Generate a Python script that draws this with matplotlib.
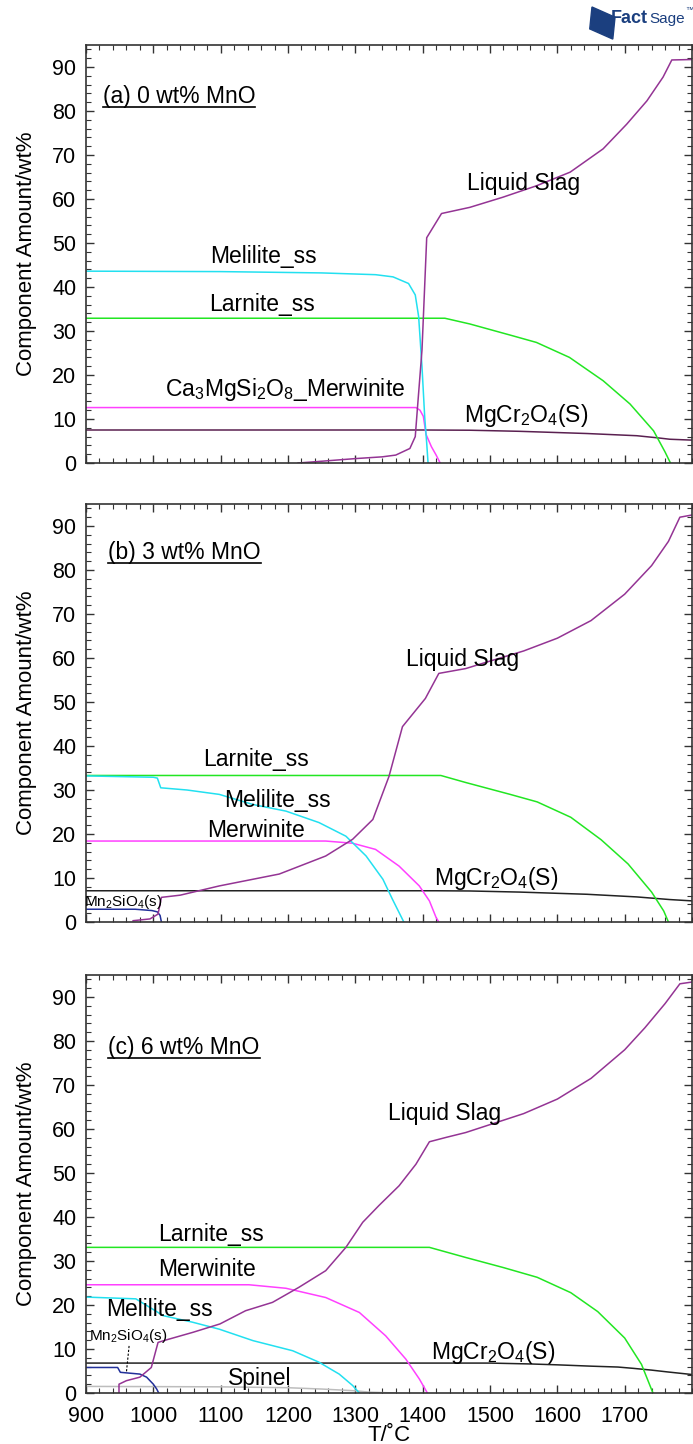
import matplotlib
matplotlib.use('Agg')
import matplotlib.pyplot as plt
from matplotlib.ticker import MultipleLocator
from matplotlib.patches import Rectangle
from matplotlib.lines import Line2D

plt.rcParams['font.family'] = ['Liberation Sans', 'DejaVu Sans']
plt.rcParams['mathtext.fontset'] = 'custom'
plt.rcParams['mathtext.rm'] = 'Liberation Sans'
plt.rcParams['mathtext.it'] = 'Liberation Sans:italic'

# colours of the phases
c_liq = '#943494'
c_mel = '#22e0f0'
c_lar = '#22e622'
c_mer = '#ff40ff'
c_mgcr = '#5a2050'
c_mgcr_bc = '#222222'
c_mn2 = '#22309a'
c_spin = '#bdbdbd'

# ---------------- (a) 0 wt% MnO ----------------
a_liq_T = [1215, 1250, 1300, 1340, 1360, 1381, 1389, 1392, 1399, 1406, 1428, 1470, 1519, 1569, 1619, 1668, 1703, 1733, 1757, 1770, 1800]
a_liq_v = [0, 0.4, 1.0, 1.4, 1.8, 3.3, 6.0, 12, 25.7, 51.2, 56.7, 58.1, 60.4, 63.0, 66.1, 71.4, 77.0, 82.3, 87.7, 91.6, 91.7]
a_mel_T = [900, 1100, 1250, 1330, 1356, 1379, 1389, 1394, 1399, 1403, 1406, 1408]
a_mel_v = [43.6, 43.5, 43.2, 42.8, 42.3, 40.8, 38.2, 33.3, 21.9, 10.5, 4.5, 0]
a_lar_T = [900, 1433, 1470, 1534, 1569, 1618, 1668, 1708, 1743, 1760, 1768]
a_lar_v = [32.9, 32.9, 31.6, 28.9, 27.4, 24.0, 18.7, 13.4, 7.3, 2.5, 0]
a_mer_T = [900, 1390, 1396, 1401, 1405, 1413, 1420, 1426]
a_mer_v = [12.6, 12.6, 12.0, 10.6, 6.5, 3.7, 1.8, 0]
a_mgcr_T = [900, 1400, 1470, 1544, 1644, 1718, 1750, 1767, 1800]
a_mgcr_v = [7.5, 7.5, 7.45, 7.2, 6.7, 6.2, 5.7, 5.4, 5.2]

# ---------------- (b) 3 wt% MnO ----------------
b_liq_T = [970, 995, 1007, 1012, 1040, 1098, 1187, 1256, 1296, 1326, 1350, 1370, 1404, 1424, 1464, 1500, 1550, 1600, 1650, 1700, 1740, 1765, 1782, 1800]
b_liq_v = [0.3, 0.7, 1.8, 5.6, 6.1, 8.2, 10.9, 15.0, 18.8, 23.3, 33.1, 44.4, 50.8, 56.5, 57.6, 59.3, 61.6, 64.5, 68.5, 74.5, 81.0, 86.5, 92.0, 92.5]
b_mel_T = [900, 1000, 1006, 1011, 1050, 1098, 1148, 1197, 1246, 1286, 1316, 1341, 1355, 1372]
b_mel_v = [33.2, 32.9, 32.7, 30.5, 30.0, 29.0, 26.7, 25.2, 22.6, 19.5, 15.0, 9.7, 5.2, 0]
b_lar_T = [900, 1427, 1464, 1530, 1570, 1620, 1665, 1705, 1740, 1758, 1765]
b_lar_v = [33.3, 33.3, 31.7, 29.0, 27.3, 23.8, 18.7, 13.2, 6.8, 2.5, 0]
b_mer_T = [900, 1256, 1296, 1330, 1365, 1395, 1410, 1420, 1424]
b_mer_v = [18.4, 18.4, 17.9, 16.5, 12.7, 8.2, 4.8, 1.0, 0]
b_mgcr_T = [900, 1420, 1470, 1544, 1644, 1718, 1767, 1800]
b_mgcr_v = [7.1, 7.1, 7.05, 6.8, 6.3, 5.7, 5.1, 4.8]
b_mn2_T = [900, 973, 998, 1006, 1010, 1012]
b_mn2_v = [2.9, 2.9, 2.6, 2.3, 1.5, 0]

# ---------------- (c) 6 wt% MnO ----------------
c_liq_T = [949, 949, 960, 980, 997, 1007, 1020, 1059, 1099, 1137, 1177, 1216, 1256, 1286, 1311, 1335, 1365, 1390, 1410, 1435, 1464, 1500, 1550, 1600, 1650, 1700, 1730, 1760, 1782, 1800]
c_liq_v = [0, 2.0, 2.8, 3.6, 5.8, 11.5, 12.1, 13.8, 15.7, 18.7, 20.6, 24.0, 27.8, 33.1, 38.8, 42.6, 47.1, 52.0, 57.1, 58.1, 59.2, 61.0, 63.5, 66.8, 71.5, 78.0, 83.0, 88.5, 93.0, 93.4]
c_mel_T = [900, 974, 1005, 1014, 1058, 1098, 1148, 1207, 1246, 1276, 1296, 1306]
c_mel_v = [21.8, 21.4, 18.5, 17.6, 16.1, 14.5, 11.9, 9.6, 7.0, 4.3, 1.7, 0]
c_lar_T = [900, 1410, 1464, 1520, 1570, 1620, 1660, 1700, 1725, 1742]
c_lar_v = [33.1, 33.1, 30.8, 28.5, 26.3, 22.8, 18.5, 12.5, 6.5, 0]
c_mer_T = [900, 1142, 1197, 1256, 1306, 1345, 1375, 1395, 1407]
c_mer_v = [24.6, 24.6, 23.8, 21.7, 18.3, 13.0, 7.7, 3.2, 0]
c_mgcr_T = [900, 1500, 1560, 1600, 1650, 1690, 1713, 1740, 1763, 1800]
c_mgcr_v = [6.8, 6.8, 6.6, 6.4, 6.1, 5.9, 5.6, 5.2, 4.8, 4.2]
c_mn2_T = [900, 947, 951, 980, 990, 1000, 1005, 1008]
c_mn2_v = [5.8, 5.8, 4.7, 4.3, 3.6, 2.0, 0.9, 0]
c_spin_T = [900, 1100, 1200, 1250, 1300, 1320, 1360]
c_spin_v = [1.5, 1.4, 1.2, 0.9, 0.5, 0.2, 0]

merw_long = 'Ca$_3$MgSi$_2$O$_8$_Merwinite'
mgcr_lbl = 'MgCr$_2$O$_4$(S)'
mn2_lbl = 'Mn$_2$SiO$_4$(s)'

panels = [
    {
        'title': '(a) 0 wt% MnO', 'title_pos': (925, 83.4),
        'lines': [(a_mgcr_T, a_mgcr_v, c_mgcr), (a_lar_T, a_lar_v, c_lar), (a_mer_T, a_mer_v, c_mer),
                  (a_mel_T, a_mel_v, c_mel), (a_liq_T, a_liq_v, c_liq)],
        'labels': [('Liquid Slag', 1550, 63.6, 16.5), ('Melilite_ss', 1164, 47.0, 16.5),
                   ('Larnite_ss', 1161, 36.1, 16.5), (merw_long, 1196, 16.6, 16.5),
                   (mgcr_lbl, 1553, 10.8, 16.5)],
    },
    {
        'title': '(b) 3 wt% MnO', 'title_pos': (933, 84.0),
        'lines': [(b_mgcr_T, b_mgcr_v, c_mgcr_bc), (b_mn2_T, b_mn2_v, c_mn2), (b_lar_T, b_lar_v, c_lar),
                  (b_mer_T, b_mer_v, c_mer), (b_mel_T, b_mel_v, c_mel), (b_liq_T, b_liq_v, c_liq)],
        'labels': [('Liquid Slag', 1459, 59.7, 16.5), ('Larnite_ss', 1153, 36.9, 16.5),
                   ('Melilite_ss', 1185, 27.7, 16.5), ('Merwinite', 1152, 20.9, 16.5),
                   (mgcr_lbl, 1509, 10.0, 16.5), (mn2_lbl, 956, 4.6, 11)],
    },
    {
        'title': '(c) 6 wt% MnO', 'title_pos': (933, 78.6),
        'lines': [(c_spin_T, c_spin_v, c_spin), (c_mgcr_T, c_mgcr_v, c_mgcr_bc), (c_mn2_T, c_mn2_v, c_mn2),
                  (c_lar_T, c_lar_v, c_lar), (c_mer_T, c_mer_v, c_mer), (c_mel_T, c_mel_v, c_mel),
                  (c_liq_T, c_liq_v, c_liq)],
        'labels': [('Liquid Slag', 1432, 63.6, 16.5), ('Larnite_ss', 1086, 36.0, 16.5),
                   ('Merwinite', 1079, 28.0, 16.5), ('Melilite_ss', 1009, 18.9, 16.5),
                   (mn2_lbl, 963, 12.9, 11), (mgcr_lbl, 1504, 9.3, 16.5),
                   ('Spinel', 1158, 3.2, 16.5)],
    },
]

fig = plt.figure(figsize=(6.93, 14.44), dpi=100)
left, width, height = 86 / 693, 606 / 693, 418 / 1444
bottoms = [1 - 463 / 1444, 1 - 922 / 1444, 1 - 1393 / 1444]

titles = []
for i, p in enumerate(panels):
    ax = fig.add_axes([left, bottoms[i], width, height])
    for T, v, col in p['lines']:
        ax.plot(T, v, color=col, lw=1.1)
    for txt, x, y, fs in p['labels']:
        ax.text(x, y, txt, ha='center', va='center', fontsize=fs, color='black')
    t = ax.text(p['title_pos'][0], p['title_pos'][1], p['title'], ha='left', va='center',
                fontsize=16.5, color='black')
    titles.append(t)

    ax.set_xlim(900, 1800)
    ax.set_ylim(0, 95)
    ax.set_xticks(range(900, 1800, 100))
    ax.xaxis.set_minor_locator(MultipleLocator(20))
    ax.set_yticks(range(0, 100, 10))
    ax.yaxis.set_minor_locator(MultipleLocator(2))
    ax.tick_params(which='both', direction='in', top=True, right=True, color='#333333')
    ax.tick_params(which='major', length=6, width=1.0, labelsize=15.5)
    ax.tick_params(axis='y', which='major', pad=7)
    ax.tick_params(axis='x', which='major', pad=9)
    ax.tick_params(which='minor', length=3.5, width=0.8)
    for s in ax.spines.values():
        s.set_color('#333333')
        s.set_linewidth(1.2)
    ax.set_ylabel('Component Amount/wt%', fontsize=16, labelpad=11)
    if i < 2:
        ax.tick_params(axis='x', labelbottom=False)
    else:
        ax.set_xlabel('T/\u02daC', fontsize=16, labelpad=-1)
        # leader line from Mn2SiO4 label down to its curve
        ax.plot([964, 960], [10.7, 4.7], color='black', lw=0.8, ls=(0, (2, 1.5)))

# underline the panel titles
fig.canvas.draw()
r = fig.canvas.get_renderer()
inv = fig.transFigure.inverted()
for t in titles:
    bb = t.get_window_extent(r)
    (x0, y0), (x1, y1) = inv.transform([(bb.x0, bb.y0 + 1), (bb.x1, bb.y0 + 1)])
    fig.add_artist(Line2D([x0, x1], [y0, y1], color='black', lw=1.2))

# FactSage logo in the corner
fig.add_artist(Rectangle((0.851, 0.9800), 0.034, 0.0155, angle=-12, color='#1b3f7f',
                         transform=fig.transFigure))
fig.text(0.882, 0.9870, 'Fact', fontsize=13, fontweight='bold', color='#1b3f7f', va='center')
fig.text(0.937, 0.9870, 'Sage', fontsize=11, color='#1b3f7f', va='center')
fig.text(0.989, 0.9925, '\u2122', fontsize=6, color='#1b3f7f', va='center')

fig.savefig('out.png', dpi=100)
